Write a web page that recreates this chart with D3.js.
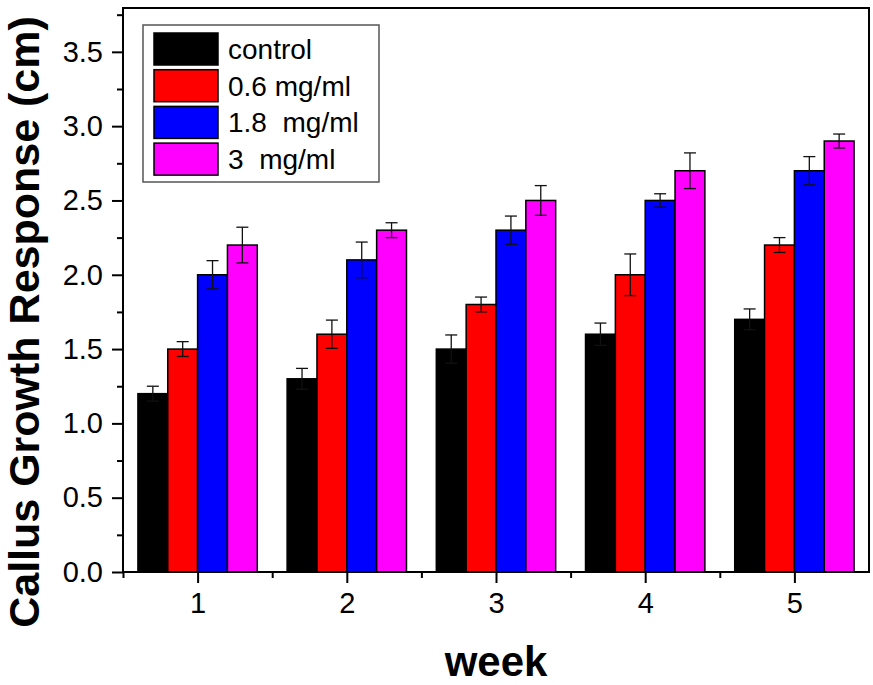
<!DOCTYPE html>
<html><head><meta charset="utf-8">
<script src="https://cdn.jsdelivr.net/npm/d3@7"></script>
<style>body{margin:0;background:#fff}svg{display:block}</style>
</head><body><svg id="c" width="873" height="685"></svg>
<script>
const weeks = [1, 2, 3, 4, 5];
const seriesNames = ["control", "0.6 mg/ml", "1.8  mg/ml", "3  mg/ml"];
const seriesColors = ["#000000", "#ff0000", "#0000ff", "#ff00ff"];
const control = [1.2, 1.3, 1.5, 1.6, 1.7];
const mg06 = [1.5, 1.6, 1.8, 2.0, 2.2];
const mg18 = [2.0, 2.1, 2.3, 2.5, 2.7];
const mg3 = [2.2, 2.3, 2.5, 2.7, 2.9];
const errControl = [0.05, 0.07, 0.095, 0.075, 0.07];
const errMg06 = [0.05, 0.095, 0.05, 0.14, 0.05];
const errMg18 = [0.095, 0.12, 0.095, 0.045, 0.095];
const errMg3 = [0.12, 0.05, 0.1, 0.12, 0.047];
const yTicks = [0, 0.5, 1.0, 1.5, 2.0, 2.5, 3.0, 3.5];

const values = [control, mg06, mg18, mg3];
const errs = [errControl, errMg06, errMg18, errMg3];

const svg = d3.select("#c");
const L = 123, R = 869, T = 8, B = 572;
const x = d3.scaleLinear().domain([0.5, 5.5]).range([L, R]);
const y = d3.scaleLinear().domain([0, 3.795]).range([B, T]);
const barW = 0.2;
const FF = "Liberation Sans, Arial, sans-serif";

const g = svg.append("g");
values.forEach((vals, si) => {
  vals.forEach((v, wi) => {
    const x0 = weeks[wi] - 0.4 + si * barW;
    g.append("rect")
      .attr("x", x(x0)).attr("y", y(v))
      .attr("width", x(x0 + barW) - x(x0)).attr("height", y(0) - y(v))
      .attr("fill", seriesColors[si]).attr("stroke", "#000").attr("stroke-width", 1.5);
  });
});
values.forEach((vals, si) => {
  vals.forEach((v, wi) => {
    const cx = x(weeks[wi] - 0.4 + si * barW + barW / 2);
    const e = errs[si][wi];
    const eg = g.append("g").attr("stroke", "#111").attr("stroke-width", 1.3);
    eg.append("line").attr("x1", cx).attr("x2", cx).attr("y1", y(v + e)).attr("y2", y(v - e));
    eg.append("line").attr("x1", cx - 6).attr("x2", cx + 6).attr("y1", y(v + e)).attr("y2", y(v + e));
    eg.append("line").attr("x1", cx - 6).attr("x2", cx + 6).attr("y1", y(v - e)).attr("y2", y(v - e));
  });
});

// frame
svg.append("rect").attr("x", L).attr("y", T).attr("width", R - L).attr("height", B - T)
  .attr("fill", "none").attr("stroke", "#000").attr("stroke-width", 2);

// y axis
const yMinor = d3.range(0.25, 3.8, 0.5);
const yAx = d3.axisLeft(y).tickValues(yTicks).tickFormat(d3.format(".1f")).tickSize(11).tickPadding(9);
const ya = svg.append("g").attr("transform", `translate(${L},0)`).call(yAx);
ya.select(".domain").remove();
ya.selectAll(".tick line").attr("stroke-width", 2);
ya.selectAll(".tick text").attr("font-family", FF).attr("font-size", 29).attr("fill", "#000");
const yMinAx = d3.axisLeft(y).tickValues(yMinor).tickFormat("").tickSize(6);
const ym = svg.append("g").attr("transform", `translate(${L},0)`).call(yMinAx);
ym.select(".domain").remove();
ym.selectAll(".tick line").attr("stroke-width", 2);

// x axis
const xAx = d3.axisBottom(x).tickValues(weeks).tickFormat(d3.format("d")).tickSize(11).tickPadding(9);
const xa = svg.append("g").attr("transform", `translate(0,${B})`).call(xAx);
xa.select(".domain").remove();
xa.selectAll(".tick line").attr("stroke-width", 2);
xa.selectAll(".tick text").attr("font-family", FF).attr("font-size", 29).attr("fill", "#000");
const xMinAx = d3.axisBottom(x).tickValues([0.5, 1.5, 2.5, 3.5, 4.5]).tickFormat("").tickSize(6);
const xm = svg.append("g").attr("transform", `translate(0,${B})`).call(xMinAx);
xm.select(".domain").remove();
xm.selectAll(".tick line").attr("stroke-width", 2);

// titles
svg.append("text").attr("transform", "translate(39,322) rotate(-90)")
  .attr("text-anchor", "middle").attr("font-family", FF)
  .attr("font-weight", "bold").attr("font-size", 43).text("Callus Growth Response (cm)");
svg.append("text").attr("x", 496).attr("y", 676)
  .attr("text-anchor", "middle").attr("font-family", FF)
  .attr("font-weight", "bold").attr("font-size", 42).text("week");

// legend
const lg = svg.append("g");
lg.append("rect").attr("x", 143).attr("y", 25).attr("width", 236).attr("height", 157)
  .attr("fill", "#fff").attr("stroke", "#555").attr("stroke-width", 1.5);
seriesNames.forEach((n, i) => {
  const yy = 33 + i * 36.7;
  lg.append("rect").attr("x", 154).attr("y", yy).attr("width", 64).attr("height", 32)
    .attr("fill", seriesColors[i]).attr("stroke", "#000").attr("stroke-width", 1.5);
  lg.append("text").attr("x", 228).attr("y", yy + 26).attr("font-family", FF)
    .attr("font-size", 28).style("white-space", "pre").text(n);
});
</script></body></html>
